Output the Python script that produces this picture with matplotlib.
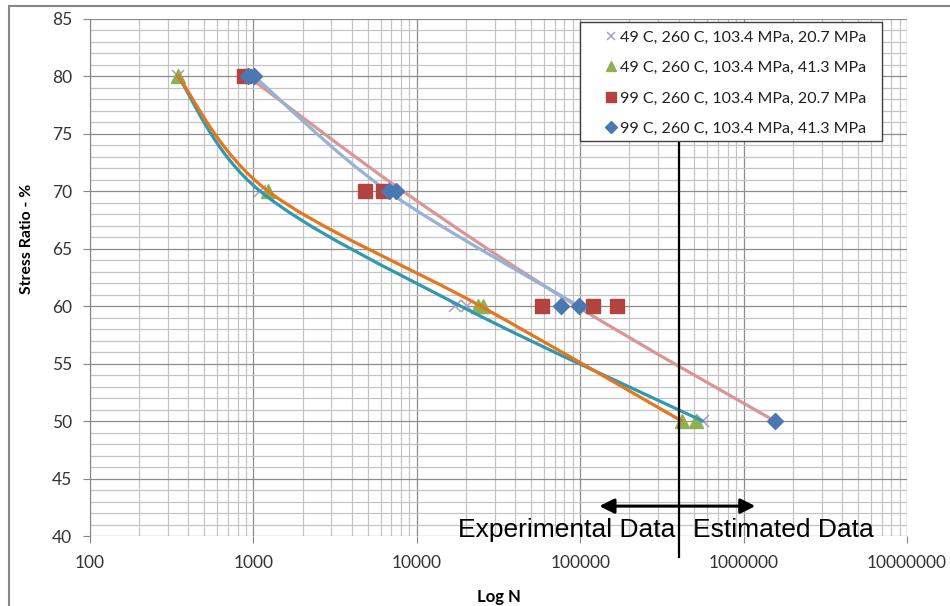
"""Stress ratio vs. log N, experimental and estimated data (Excel-style chart)."""

import matplotlib

matplotlib.use("Agg")
import matplotlib.pyplot as plt
import numpy as np
from matplotlib.patches import PathPatch, Rectangle
from matplotlib.path import Path
from matplotlib.ticker import FixedLocator, LogLocator, NullFormatter

# ---- data ---------------------------------------------------------------
LABELS = [
    "49 C, 260 C, 103.4 MPa, 20.7 MPa",
    "49 C, 260 C, 103.4 MPa, 41.3 MPa",
    "99 C, 260 C, 103.4 MPa, 20.7 MPa",
    "99 C, 260 C, 103.4 MPa, 41.3 MPa",
]

s1_n = [345, 1096, 17070, 20200, 561000]
s1_r = [80, 70, 60, 60, 50]

s2_n = [345, 1227, 23600, 25300, 418000, 508000]
s2_r = [80, 70, 60, 60, 50, 50]

s3_n = [875, 4810, 6200, 58200, 119000, 167000]
s3_r = [80, 70, 70, 60, 60, 60]

s4_n = [925, 1007, 6740, 7440, 76000, 98000, 1550000]
s4_r = [80, 80, 70, 70, 60, 60, 50]

# smoothed connecting lines (Excel "smoothed line" series, no legend entry)
teal_n = [345, 1096, 18500, 561000]
teal_r = [80, 70, 60, 50]
orange_n = [345, 1227, 24500, 418000]
orange_r = [80, 70, 60, 50]
blue_n = [1007, 6600, 98000]
blue_r = [80, 70, 60]
pink_n = [920, 8200, 95000, 1550000]
pink_r = [80, 70, 60, 50]

X_TICKS = [1e2, 1e3, 1e4, 1e5, 1e6, 1e7]
X_TICK_LABELS = ["100", "1000", "10000", "100000", "1000000", "10000000"]

SPLIT_N = 400000  # experimental / estimated boundary
ARROW_N = (131000, 1180000)
ARROW_R = 42.6

TICK_FONT = ["Lato", "DejaVu Sans"]
NOTE_FONT = ["Liberation Sans", "DejaVu Sans"]

W, H = 950, 606


def smooth_path(ns, rs):
    """Bezier path through the points, built in (log10 N, r) space."""
    p = np.column_stack([np.log10(ns), rs]).astype(float)
    k = len(p)
    verts = [p[0]]
    codes = [Path.MOVETO]
    for i in range(k - 1):
        p0 = p[max(i - 1, 0)]
        p3 = p[min(i + 2, k - 1)]
        c1 = p[i] + (p[i + 1] - p0) / 6.0
        c2 = p[i + 1] - (p3 - p[i]) / 6.0
        verts += [c1, c2, p[i + 1]]
        codes += [Path.CURVE4] * 3
    verts = np.array(verts)
    verts[:, 0] = 10.0 ** verts[:, 0]
    return Path(verts, codes)


def add_curve(ax, ns, rs, color, z):
    ax.add_patch(
        PathPatch(
            smooth_path(ns, rs),
            facecolor="none",
            edgecolor=color,
            lw=2.3,
            capstyle="round",
            zorder=z,
        )
    )


fig = plt.figure(figsize=(W / 100, H / 100), dpi=100)
ax_l, ax_r, ax_t, ax_b = 90, 907, 18.5, 536
ax = fig.add_axes([ax_l / W, 1 - ax_b / H, (ax_r - ax_l) / W, (ax_b - ax_t) / H])


def axfrac(px, py):
    """Pixel position in the image -> axes fraction."""
    return (px - ax_l) / (ax_r - ax_l), (ax_b - py) / (ax_b - ax_t)


# chart frame
fig.patches.append(
    Rectangle(
        (9 / W, -0.05),
        1.2,
        1 - 6 / H + 0.05,
        transform=fig.transFigure,
        fill=False,
        edgecolor="#868686",
        lw=1.5,
        zorder=0,
    )
)

ax.set_xscale("log")
ax.set_xlim(100, 1e7)
ax.set_ylim(40, 85)

# grid
ax.xaxis.set_major_locator(FixedLocator(X_TICKS))
ax.xaxis.set_minor_locator(LogLocator(base=10, subs=np.arange(2, 10)))
ax.xaxis.set_minor_formatter(NullFormatter())
ax.set_xticklabels(X_TICK_LABELS)
ax.set_yticks(np.arange(40, 86, 5))
ax.set_yticks(np.arange(40, 86, 1), minor=True)
ax.grid(which="major", color="#8c8c8c", lw=0.9)
ax.grid(which="minor", color="#c4c4c4", lw=0.9)
ax.set_axisbelow(True)

for side in ("top", "right", "bottom"):
    ax.spines[side].set_visible(False)
ax.spines["left"].set_color("#868686")
ax.tick_params(which="major", direction="out", length=5, color="#868686",
               labelsize=12.5, labelcolor="#333333")
ax.tick_params(axis="x", pad=9)
ax.tick_params(axis="y", pad=8)
ax.tick_params(which="minor", length=0)
for lab in ax.get_xticklabels() + ax.get_yticklabels():
    lab.set_family(TICK_FONT)

fig.text(499 / W, 1 - 597 / H, "Log N", ha="center", va="center",
         fontsize=12, fontweight="bold", family=TICK_FONT)
fig.text(27 / W, 1 - 239 / H, "Stress Ratio - %", rotation=90,
         ha="center", va="center", fontsize=11.3, fontweight="bold",
         family=TICK_FONT)

# lines under the 99 C markers, above the 49 C markers
add_curve(ax, pink_n, pink_r, "#D99694", 2)
add_curve(ax, blue_n, blue_r, "#95B3D7", 2)

ax.plot(s1_n, s1_r, ls="none", marker="x", ms=9, mew=1.1, color="#A99BCB",
        zorder=3, label=LABELS[0])
ax.plot(s2_n, s2_r, ls="none", marker="^", ms=10.5, color="#8FB052",
        mec="#8FB052", zorder=3, label=LABELS[1])
ax.plot(s3_n, s3_r, ls="none", marker="s", ms=10.5, color="#B2433F",
        mec="#B2433F", zorder=3, label=LABELS[2])
ax.plot(s4_n, s4_r, ls="none", marker="D", ms=8.5, color="#4A78B0",
        mec="#4A78B0", zorder=3, label=LABELS[3])

add_curve(ax, teal_n, teal_r, "#3199AE", 4)
add_curve(ax, orange_n, orange_r, "#E6761E", 4)

# experimental / estimated boundary
ax.plot([SPLIT_N, SPLIT_N], [38.2, 80], color="black", lw=1.6,
        clip_on=False, zorder=5)
ax.annotate("", xy=(ARROW_N[0], ARROW_R), xytext=(ARROW_N[1], ARROW_R),
            arrowprops=dict(arrowstyle="<|-|>", color="black", lw=2.2,
                            mutation_scale=22, shrinkA=0, shrinkB=0),
            zorder=5)
ax.text(SPLIT_N / 1.042, 39.87, "Experimental Data", ha="right",
        va="baseline", fontsize=19, family=NOTE_FONT, zorder=5)
ax.text(SPLIT_N * 1.22, 39.87, "Estimated Data", ha="left",
        va="baseline", fontsize=19, family=NOTE_FONT, zorder=5)

# legend box drawn separately so its padding matches the reference
bx0, by0 = axfrac(580, 141)
bx1, by1 = axfrac(882, 22)
ax.add_patch(
    Rectangle((bx0, by0), bx1 - bx0, by1 - by0, transform=ax.transAxes,
              facecolor="white", edgecolor="#404040", lw=1.0, zorder=6,
              clip_on=False)
)
leg = ax.legend(
    loc="upper left",
    bbox_to_anchor=axfrac(605.4, 30.3),
    borderaxespad=0,
    borderpad=0,
    frameon=False,
    prop={"family": TICK_FONT, "size": 11.5},
    markerscale=0.7,
    handlelength=0.7,
    handletextpad=0.21,
    labelspacing=1.02,
)
leg.set_zorder(7)
for t in leg.get_texts():
    t.set_color("#202020")

fig.savefig("out.png", dpi=100)
